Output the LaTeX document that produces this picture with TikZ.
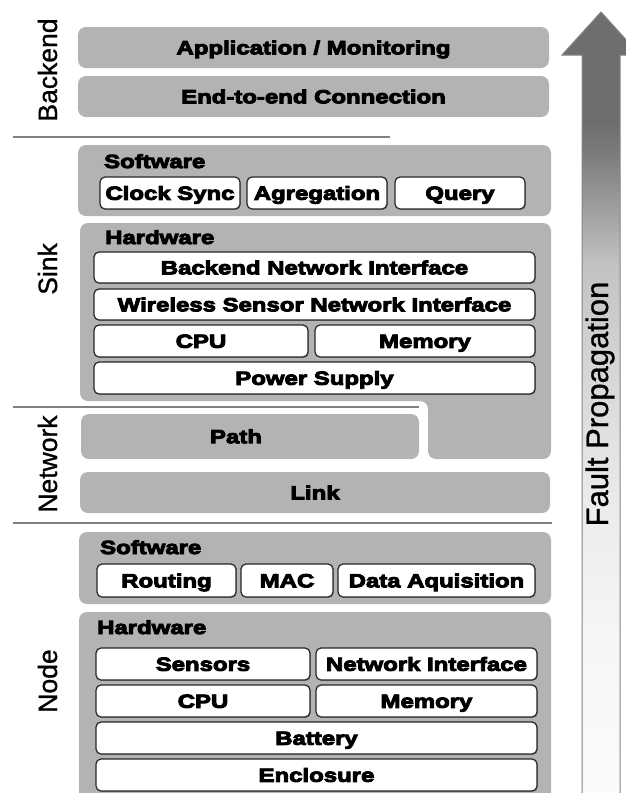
\documentclass[tikz,border=0pt]{standalone}
\usepackage{fontspec}
\setmainfont{Liberation Sans}[FakeBold=1]
\newfontfamily\bx{Liberation Sans Bold}[FakeStretch=1.26, FakeBold=5]
\usetikzlibrary{shadows}
\definecolor{boxgray}{HTML}{B3B3B3}
\definecolor{sepgray}{HTML}{808080}
\definecolor{arrline}{HTML}{858585}
\definecolor{fa}{HTML}{6E6E6E}
\definecolor{fb}{HTML}{7A7A7A}
\definecolor{fc}{HTML}{9A9A9A}
\definecolor{fd}{HTML}{C2C2C2}
\definecolor{fe}{HTML}{D5D5D5}
\definecolor{ff}{HTML}{EBEBEB}
\definecolor{fg}{HTML}{F6F6F6}
\definecolor{fh}{HTML}{FBFBFB}
\pgfdeclareverticalshading{fpshade}{100bp}{color(0bp)=(fh); color(25bp)=(fh); color(35bp)=(fg); color(44bp)=(ff); color(52.7bp)=(fe); color(59bp)=(fd); color(63bp)=(fc); color(66.2bp)=(fb); color(68bp)=(fa); color(100bp)=(fa)}
\tikzset{
  wbox/.style={draw=black!85, line width=1.2pt, fill=white, rounded corners=5pt, inner sep=0pt,
    drop shadow={shadow xshift=0.8pt, shadow yshift=-0.9pt, fill=black!55, opacity=0.8},
    font=\bx\fontsize{19}{21}\selectfont, text height=13.6pt, text depth=0pt},
  gbox/.style={fill=boxgray, rounded corners=8pt, inner sep=0pt,
    font=\bx\fontsize{19}{21}\selectfont, text height=13.6pt, text depth=0pt},
  lbl/.style={font=\bx\fontsize{19}{21}\selectfont, inner sep=0pt},
  vlbl/.style={font=\fontsize{26.5}{28}\selectfont, rotate=90, anchor=base, inner sep=0pt},
  sep/.style={draw=sepgray, line width=1.5pt}
}
\newcommand{\wb}[6]{\node[wbox, minimum width={(#4-#2)*1pt}, minimum height={(#5-#3)*1pt}] (#1) at ({(#2+#4)/2},{(#3+#5)/2}) {#6};}
\newcommand{\gb}[6]{\node[gbox, minimum width={(#4-#2)*1pt}, minimum height={(#5-#3)*1pt}] (#1) at ({(#2+#4)/2},{(#3+#5)/2}) {#6};}
\begin{document}
\begin{tikzpicture}[x=1pt,y=-1pt]
\useasboundingbox (0,0) rectangle (626,793);
\fill[white] (0,0) rectangle (626,793);

% arrow
\begin{scope}
\clip (0,0) rectangle (626,793);
\path[draw=arrline, line width=1pt, shading=fpshade] (601,12) -- (640,55) -- (620,55) -- (620,800) -- (582,800) -- (582,55) -- (562,55) -- cycle;
\end{scope}
\node[font=\fontsize{31}{33}\selectfont, rotate=90, anchor=base, inner sep=0pt] (fp) at (608,404) {Fault Propagation};

% separators
\coordinate (s1a) at (13,137); \coordinate (s1b) at (390,137);
\coordinate (s2a) at (13,407); \coordinate (s2b) at (419,407);
\coordinate (s3a) at (13,523); \coordinate (s3b) at (552,523);
\draw[sep] (s1a) -- (s1b);
\draw[sep] (s2a) -- (s2b);
\draw[sep] (s3a) -- (s3b);

% layer labels
\node[vlbl] (lbackend) at (57,70) {Backend};
\node[vlbl] (lsink) at (57,269) {Sink};
\node[vlbl] (lnetwork) at (57,464) {Network};
\node[vlbl] (lnode) at (57,681) {Node};

% backend
\gb{app}{78}{27}{549}{68}{Application / Monitoring}
\gb{e2e}{78}{76}{549}{117}{End-to-end Connection}

% sink software
\gb{sinksw}{78}{145}{551}{216}{}
\node[lbl, anchor=base west] (sinkswl) at (104,168) {Software};
\wb{clock}{100}{177}{240}{209}{Clock Sync}
\wb{agreg}{247}{177}{387}{209}{Agregation}
\wb{query}{395}{177}{525}{209}{Query}

% sink hardware
\fill[boxgray, rounded corners=8pt] (80,223) -- (551,223) -- (551,459) -- (428,459) -- (428,401) -- (80,401) -- cycle;
\node[lbl, anchor=base west] (sinkhwl) at (105,244) {Hardware};
\wb{bni}{94}{252}{535}{283}{Backend Network Interface}
\wb{wsni}{94}{289}{535}{320}{Wireless Sensor Network Interface}
\wb{scpu}{94}{325}{308}{357}{CPU}
\wb{smem}{315}{325}{535}{357}{Memory}
\wb{pws}{94}{362}{535}{394}{Power Supply}

% network
\gb{pathbox}{81}{414}{419}{459}{}
\node[lbl, text height=13.6pt] (pathl) at (236,436.5) {Path};
\gb{link}{80}{472}{550}{513}{Link}

% node software
\gb{nodesw}{79}{532}{551}{604}{}
\node[lbl, anchor=base west] (nodeswl) at (100,554) {Software};
\wb{routing}{97}{564}{236}{597}{Routing}
\wb{mac}{241}{564}{333}{597}{MAC}
\wb{daq}{338}{564}{535}{597}{Data Aquisition}

% node hardware
\begin{scope}
\clip (0,0) rectangle (626,793);
\gb{nodehw}{79}{612}{551}{810}{}
\end{scope}
\node[lbl, anchor=base west] (nodehwl) at (97,634) {Hardware};
\wb{sensors}{96}{648}{310}{680}{Sensors}
\wb{nni}{316}{648}{537}{680}{Network Interface}
\wb{ncpu}{96}{685}{310}{717}{CPU}
\wb{nmem}{316}{685}{537}{717}{Memory}
\wb{battery}{96}{722}{537}{754}{Battery}
\wb{enclosure}{96}{759}{537}{791}{Enclosure}
\end{tikzpicture}
\end{document}
